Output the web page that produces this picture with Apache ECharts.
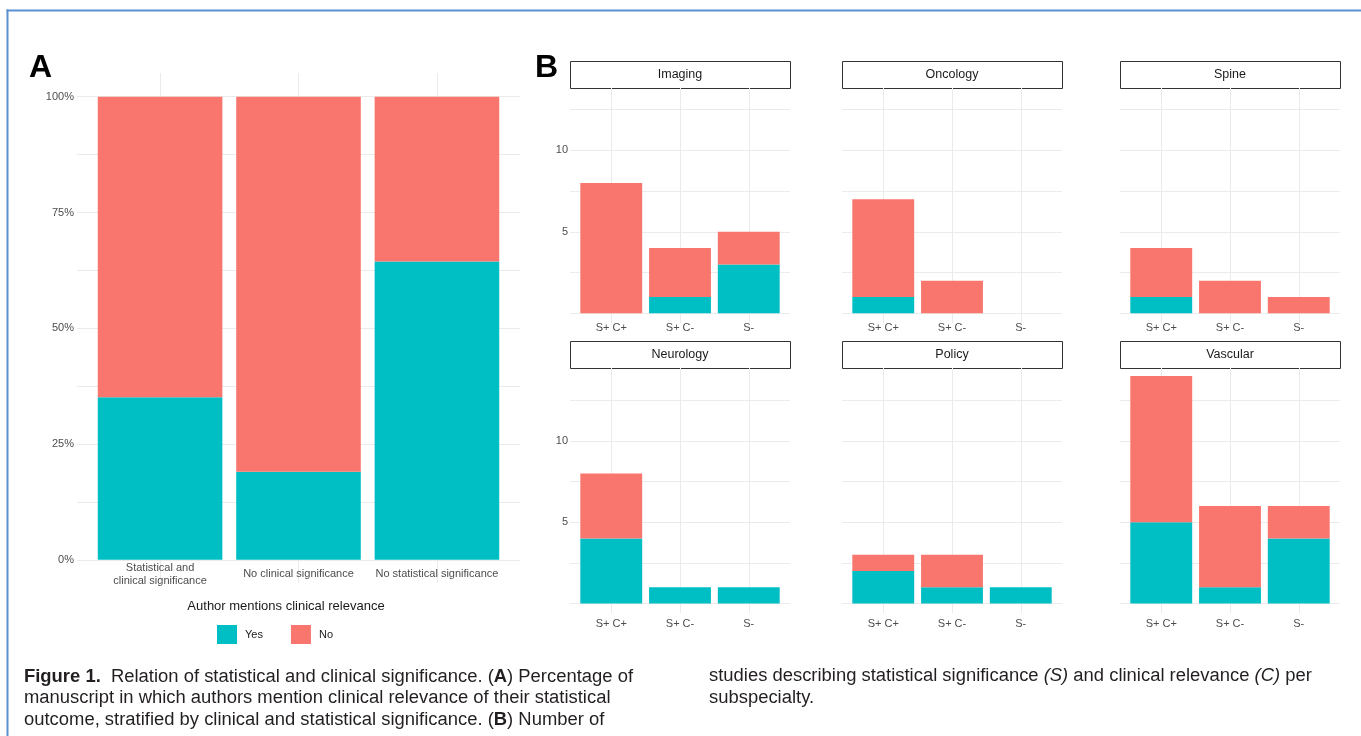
<!DOCTYPE html>
<html><head><meta charset="utf-8">
<script src="https://cdn.jsdelivr.net/npm/echarts@6/dist/echarts.min.js"></script>
<style>html,body{margin:0;padding:0;background:#fff}#c{width:1361px;height:736px}</style>
</head><body><div id="c"></div>
<script>
// ---------------- data ----------------
const aCategories = ['Statistical and\nclinical significance', 'No clinical significance', 'No statistical significance'];
const aYesPct = [35.1, 19.0, 64.4];
const aNoPct = [64.9, 81.0, 35.6];
const aTickValues = [0, 25, 50, 75, 100];
const aGridValues = [0, 12.5, 25, 37.5, 50, 62.5, 75, 87.5, 100];

const bCategories = ['S+ C+', 'S+ C-', 'S-'];
const bFacets = ['Imaging', 'Oncology', 'Spine', 'Neurology', 'Policy', 'Vascular'];
const imagingYes = [0, 1, 3],   imagingNo = [8, 3, 2];
const oncologyYes = [1, 0, 0],  oncologyNo = [6, 2, 0];
const spineYes = [1, 0, 0],     spineNo = [3, 2, 1];
const neurologyYes = [4, 1, 1], neurologyNo = [4, 0, 0];
const policyYes = [2, 1, 1],    policyNo = [1, 2, 0];
const vascularYes = [5, 1, 4],  vascularNo = [9, 5, 2];
const bTickValues = [5, 10];
const bGridValues = [0, 2.5, 5, 7.5, 10, 12.5];
const legendNames = ['Yes', 'No'];
const legendTitle = 'Author mentions clinical relevance';

// ---------------- style / layout ----------------
const TEAL = '#00BFC4', RED = '#F8766D', GRIDC = '#ebebeb', AXT = '#4d4d4d';
const FONT = "'Liberation Sans', Arial, Helvetica, sans-serif";

const grids = [], xAxes = [], yAxes = [], series = [], graphics = [];

function addPanel(o) {
  const unit = o.width / 3.2;
  const bg = grids.length;
  grids.push({ left: o.left, top: o.panelTop, width: o.width, height: o.panelBottom - o.panelTop });
  xAxes.push({ type: 'value', gridIndex: bg, min: 0.4, max: 3.6,
    axisLine: { show: false }, axisTick: { show: false, customValues: [1, 2, 3] },
    axisLabel: { show: false }, splitLine: { show: true, lineStyle: { color: GRIDC, width: 1 } } });
  yAxes.push({ type: 'value', gridIndex: bg,
    min: -(o.panelBottom - o.zeroY) / o.pxPerUnit, max: (o.zeroY - o.panelTop) / o.pxPerUnit,
    axisLine: { show: false }, axisTick: { show: false, customValues: o.hGrid },
    axisLabel: { show: !!o.yLabels, customValues: o.yLabels || [], formatter: o.yFmt || '{value}',
      color: AXT, fontSize: 11, margin: o.yMargin, fontFamily: FONT },
    splitLine: { show: true, lineStyle: { color: GRIDC, width: 1 } } });
  const d = grids.length;
  const dataTop = o.zeroY - o.dataMax * o.pxPerUnit;
  grids.push({ left: o.left + 0.1 * unit, width: 3 * unit, top: dataTop, height: o.zeroY - dataTop });
  xAxes.push({ type: 'category', gridIndex: d, data: o.cats,
    axisLine: { show: false }, axisTick: { show: false }, splitLine: { show: false },
    axisLabel: { interval: 0, color: AXT, fontSize: 11, fontFamily: FONT, lineHeight: 13,
      margin: o.xLabelY - o.zeroY, verticalAlign: 'middle' } });
  yAxes.push({ type: 'value', gridIndex: d, min: 0, max: o.dataMax, show: false });
  series.push({ name: legendNames[0], type: 'bar', xAxisIndex: d, yAxisIndex: d, stack: 's' + d,
    data: o.yes, itemStyle: { color: TEAL }, barCategoryGap: '10%' });
  series.push({ name: legendNames[1], type: 'bar', xAxisIndex: d, yAxisIndex: d, stack: 's' + d,
    data: o.no, itemStyle: { color: RED }, barCategoryGap: '10%' });
  if (o.strip) {
    graphics.push({ type: 'rect', shape: { x: o.left + 0.5, y: o.stripTop + 0.5, width: o.width, height: 27 },
      style: { fill: '#fff', stroke: '#333', lineWidth: 1 } });
    graphics.push({ type: 'text', x: o.left + o.width / 2, y: o.stripTop + 14,
      style: { text: o.strip, fontSize: 12.5, fontFamily: FONT, fill: '#1a1a1a', align: 'center', verticalAlign: 'middle' } });
  }
}

// Panel A
addPanel({ left: 77, width: 443, panelTop: 73, panelBottom: 583, zeroY: 559.8, pxPerUnit: 4.631,
  dataMax: 100, cats: aCategories, yes: aYesPct, no: aNoPct, yLabels: aTickValues, yFmt: '{value}%',
  yMargin: 3, hGrid: aGridValues, xLabelY: 574 });

// Panel B facets
const bYes = [imagingYes, oncologyYes, spineYes, neurologyYes, policyYes, vascularYes];
const bNo = [imagingNo, oncologyNo, spineNo, neurologyNo, policyNo, vascularNo];
const colLeft = [570, 842, 1120];
const rowPanelTop = [88, 368], rowPanelBottom = [323, 613], rowZero = [313.3, 603.6],
      rowPx = [16.3, 16.26], rowLabelY = [328.3, 624.3], rowStripTop = [61, 341];
bFacets.forEach((name, i) => {
  const r = Math.floor(i / 3), c = i % 3;
  addPanel({ left: colLeft[c], width: 220, panelTop: rowPanelTop[r], panelBottom: rowPanelBottom[r],
    zeroY: rowZero[r], pxPerUnit: rowPx[r], dataMax: 14, cats: bCategories, yes: bYes[i], no: bNo[i],
    yLabels: c === 0 ? bTickValues : null, yMargin: 2, hGrid: bGridValues, xLabelY: rowLabelY[r],
    strip: name, stripTop: rowStripTop[r] });
});

// Panel letters
graphics.push({ type: 'text', x: 29, y: 68, style: { text: 'A', fontSize: 32, fontWeight: 'bold', fontFamily: FONT, fill: '#000', verticalAlign: 'middle' } });
graphics.push({ type: 'text', x: 535, y: 68, style: { text: 'B', fontSize: 32, fontWeight: 'bold', fontFamily: FONT, fill: '#000', verticalAlign: 'middle' } });

// Legend title
graphics.push({ type: 'text', x: 286, y: 606, style: { text: legendTitle, fontSize: 13, fontFamily: FONT, fill: '#1a1a1a', align: 'center', verticalAlign: 'middle' } });

// Frame
graphics.push({ type: 'line', shape: { x1: 7.5, y1: 9.5, x2: 7.5, y2: 736 }, style: { stroke: '#5a8fd0', lineWidth: 2 } });
graphics.push({ type: 'line', shape: { x1: 6.5, y1: 10.5, x2: 1361, y2: 10.5 }, style: { stroke: '#5a8fd0', lineWidth: 2 } });

// Caption
const CAP = 18;
const ctx = document.createElement('canvas').getContext('2d');
ctx.font = 'bold ' + CAP + 'px ' + FONT;
let wb = ctx.measureText('Figure 1.').width + ctx.measureText('A').width;
ctx.font = CAP + 'px ' + FONT;
let wn = ctx.measureText('  Relation of statistical and clinical significance. () Percentage of').width;
const capScale = 609 / (wb + wn);
const rich = {
  b: { fontWeight: 'bold', fontSize: CAP, fontFamily: FONT, fill: '#231f20' },
  i: { fontStyle: 'italic', fontSize: CAP, fontFamily: FONT, fill: '#231f20' }
};
function capLine(x, y, text) {
  graphics.push({ type: 'text', x: x, y: y, scaleX: capScale,
    style: { text: text, fontSize: CAP, fontFamily: FONT, fill: '#231f20', verticalAlign: 'middle', align: 'left', rich: rich } });
}
capLine(24, 677, '{b|Figure 1.}  Relation of statistical and clinical significance. ({b|A}) Percentage of');
capLine(24, 698.5, 'manuscript in which authors mention clinical relevance of their statistical');
capLine(24, 720, 'outcome, stratified by clinical and statistical significance. ({b|B}) Number of');
capLine(709, 676, 'studies describing statistical significance {i|(S)} and clinical relevance {i|(C)} per');
capLine(709, 698, 'subspecialty.');

const chart = echarts.init(document.getElementById('c'), null, { renderer: 'canvas' });
chart.setOption({
  animation: false,
  backgroundColor: '#fff',
  textStyle: { fontFamily: FONT },
  grid: grids, xAxis: xAxes, yAxis: yAxes, series: series,
  legend: { data: legendNames, left: 217, top: 625, itemWidth: 20, itemHeight: 19, itemGap: 28, icon: 'rect',
    padding: 0, selectedMode: false, textStyle: { fontSize: 11, color: '#1a1a1a', fontFamily: FONT, padding: [0, 0, 0, 3] } },
  graphic: graphics
});
</script>
</body></html>
